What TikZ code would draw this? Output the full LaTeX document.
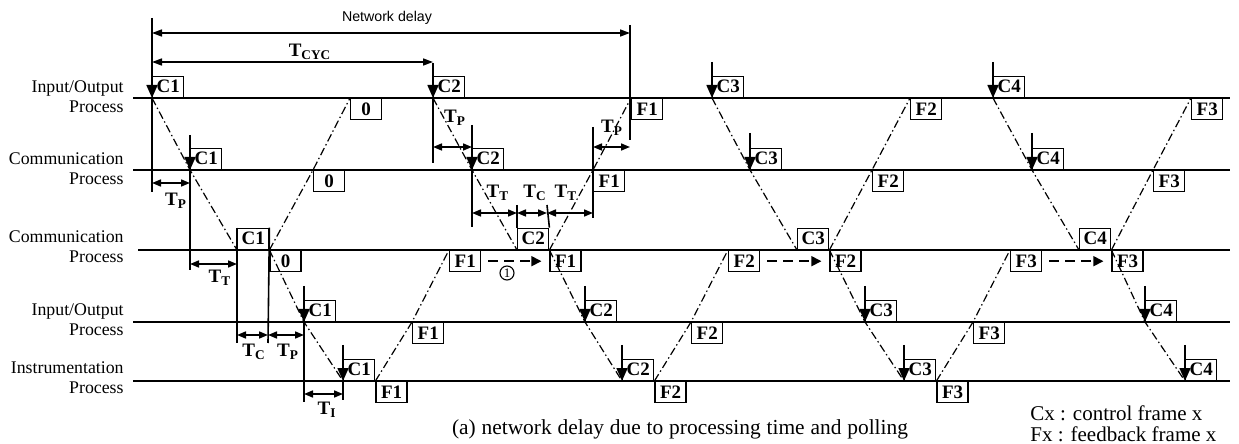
\documentclass[tikz,border=0pt]{standalone}
\usepackage{fontspec}
\setmainfont{Liberation Serif}
\newfontfamily\netsans{Liberation Sans}
\usetikzlibrary{arrows.meta}
\begin{document}
\begin{tikzpicture}[x=0.5pt,y=-0.5pt,
  timeline/.style={line width=1pt},
  frbox/.style={draw,line width=0.7pt,minimum width=15.5pt,minimum height=10.5pt,inner sep=0pt,font=\bfseries\fontsize{9.5}{9.5}\selectfont},
  upbox/.style={frbox,anchor=south west},
  downbox/.style={frbox,anchor=north west},
  cin/.style={line width=0.8pt,-{Triangle[width=5.5pt,length=6.5pt]}},
  vline/.style={line width=0.8pt},
  dimarr/.style={line width=0.8pt,{Triangle[width=3.5pt,length=4.5pt]}-{Triangle[width=3.5pt,length=4.5pt]}},
  toparr/.style={line width=0.8pt,{Triangle[width=3.5pt,length=5pt]}-{Triangle[width=3.5pt,length=5pt]}},
  dashdot/.style={line width=0.6pt,dash pattern=on 4pt off 1.5pt on 0.7pt off 1.5pt},
  dasharr/.style={line width=0.8pt,dash pattern=on 5pt off 3pt,-{Triangle[width=5pt,length=5pt]}},
  proc/.style={anchor=east,align=right,inner sep=0pt,font=\fontsize{8.9}{10}\selectfont},
  tlab/.style={inner sep=0pt,font=\bfseries\fontsize{9.5}{9.5}\selectfont},
  legend/.style={anchor=base west,inner sep=0pt,font=\fontsize{10.5}{12}\selectfont},
]
\useasboundingbox (0,0) rectangle (1239,444);

% ---------- timelines ----------
\coordinate (L1s) at (133,98);  \coordinate (L1e) at (1230,98);
\coordinate (L2s) at (133,170); \coordinate (L2e) at (1230,170);
\coordinate (L3s) at (138,250); \coordinate (L3e) at (1230,250);
\coordinate (L4s) at (133,322); \coordinate (L4e) at (1230,322);
\coordinate (L5s) at (133,381); \coordinate (L5e) at (1230,381);
\draw[timeline] (L1s) -- (L1e);
\draw[timeline] (L2s) -- (L2e);
\draw[timeline] (L3s) -- (L3e);
\draw[timeline] (L4s) -- (L4e);
\draw[timeline] (L5s) -- (L5e);

% ---------- process labels ----------
\node[proc] (P1) at (124,97) {Input/Output\\Process};
\node[proc] (P2) at (124,169) {Communication\\Process};
\node[proc] (P3) at (124,247) {Communication\\Process};
\node[proc] (P4) at (124,320) {Input/Output\\Process};
\node[proc] (P5) at (124,378) {Instrumentation\\Process};

% ---------- frames: line 1 ----------
\node[upbox]   (C1a) at (152,98) {C1};
\node[downbox] (Z0a) at (350,98) {0};
\node[upbox]   (C2a) at (433,98) {C2};
\node[downbox] (F1a) at (631,98) {F1};
\node[upbox]   (C3a) at (712,98) {C3};
\node[downbox] (F2a) at (910,98) {F2};
\node[upbox]   (C4a) at (993,98) {C4};
\node[downbox] (F3a) at (1191,98) {F3};
% line 2
\node[upbox]   (C1b) at (190,170) {C1};
\node[downbox] (Z0b) at (313,170) {0};
\node[upbox]   (C2b) at (472,170) {C2};
\node[downbox] (F1b) at (593,170) {F1};
\node[upbox]   (C3b) at (750,170) {C3};
\node[downbox] (F2b) at (872,170) {F2};
\node[upbox]   (C4b) at (1032,170) {C4};
\node[downbox] (F3b) at (1153,170) {F3};
% line 3
\node[upbox]   (C1c) at (237,250) {C1};
\node[downbox] (Z0c) at (C1c.south east) {0};
\node[downbox] (F1c) at (449,250) {F1};
\node[upbox]   (C2c) at (517,250) {C2};
\node[downbox] (F1cc) at (C2c.south east) {F1};
\node[downbox] (F2c) at (728,250) {F2};
\node[upbox]   (C3c) at (797,250) {C3};
\node[downbox] (F2cc) at (C3c.south east) {F2};
\node[downbox] (F3c) at (1010,250) {F3};
\node[upbox]   (C4c) at (1079,250) {C4};
\node[downbox] (F3cc) at (C4c.south east) {F3};
% line 4
\node[upbox]   (C1d) at (304,322) {C1};
\node[downbox] (F1d) at (412,322) {F1};
\node[upbox]   (C2d) at (585,322) {C2};
\node[downbox] (F2d) at (691,322) {F2};
\node[upbox]   (C3d) at (865,322) {C3};
\node[downbox] (F3d) at (973,322) {F3};
\node[upbox]   (C4d) at (1145,322) {C4};
% line 5
\node[upbox]   (C1e) at (343,381) {C1};
\node[downbox] (F1e) at (C1e.south east) {F1};
\node[upbox]   (C2e) at (622,381) {C2};
\node[downbox] (F2e) at (C2e.south east) {F2};
\node[upbox]   (C3e) at (904,381) {C3};
\node[downbox] (F3e) at (C3e.south east) {F3};
\node[upbox]   (C4e) at (1185,381) {C4};

% ---------- dash-dot frame paths ----------
\draw[dashdot] (C1a.south west) -- (C1b.south west) -- (C1c.south west);
\draw[dashdot] (C1c.south east) -- (C1d.south west) -- (C1e.south west);
\draw[dashdot] (Z0c.north west) -- (Z0b.north west) -- (Z0a.north west);
\draw[dashdot] (F1e.north west) -- (F1d.north west) -- (F1c.north west);
\draw[dashdot] (F1cc.north west) -- (F1b.north west) -- (F1a.north west);
\draw[dashdot] (C2a.south west) -- (C2b.south west) -- (C2c.south west);
\draw[dashdot] (C2c.south east) -- (C2d.south west) -- (C2e.south west);
\draw[dashdot] (F2e.north west) -- (F2d.north west) -- (F2c.north west);
\draw[dashdot] (F2cc.north west) -- (F2b.north west) -- (F2a.north west);
\draw[dashdot] (C3a.south west) -- (C3b.south west) -- (C3c.south west);
\draw[dashdot] (C3c.south east) -- (C3d.south west) -- (C3e.south west);
\draw[dashdot] (F3e.north west) -- (F3d.north west) -- (F3c.north west);
\draw[dashdot] (F3cc.north west) -- (F3b.north west) -- (F3a.north west);
\draw[dashdot] (C4a.south west) -- (C4b.south west) -- (C4c.south west);
\draw[dashdot] (C4c.south east) -- (C4d.south west) -- (C4e.south west);

% ---------- dashed forwarding arrows ----------
\draw[dasharr] ([xshift=3.5pt]F1c.east) -- ([xshift=-4pt]F1cc.west);
\draw[dasharr] ([xshift=3.5pt]F2c.east) -- ([xshift=-4pt]F2cc.west);
\draw[dasharr] ([xshift=3.5pt]F3c.east) -- ([xshift=-4pt]F3cc.west);
\node[circle,draw,line width=0.55pt,inner sep=0pt,minimum size=7pt,font=\fontsize{6.5}{6.5}\selectfont] (n1) at (507,273) {1};

% ---------- top delay arrows ----------
\coordinate (nd1) at (152,33); \coordinate (nd2) at (630,33);
\draw[toparr] (nd1) -- (nd2);
\node[inner sep=0pt,font=\netsans\fontsize{7.1}{7}\selectfont] (lnd) at (387,18) {Network delay};
\coordinate (v630t) at (630,25); \coordinate (v630b) at (630,140);
\draw[vline] (v630t) -- (v630b);
\coordinate (cy1) at (152,62); \coordinate (cy2) at (433,62);
\draw[toparr] (cy1) -- (cy2);
\node[tlab] (lcyc) at (310,52) {T\textsubscript{CYC}};

% ---------- cycle 1 markers ----------
\coordinate (v152t) at (152,18); \coordinate (v152b) at (152,192);
\draw[cin] (v152t) -- (C1a.south west);
\draw[vline] (C1a.south west) -- (v152b);
\coordinate (v190t) at (190,135); \coordinate (v190b) at (190,270);
\draw[cin] (v190t) -- (C1b.south west);
\draw[vline] (C1b.south west) -- (v190b);
\coordinate (tp1a) at (152,183); \coordinate (tp1b) at (190,183);
\draw[dimarr] (tp1a) -- (tp1b);
\node[tlab] (ltp1) at (176,201) {T\textsubscript{P}};
\coordinate (tt1a) at (190,264); \coordinate (tt1b) at (237,264);
\draw[dimarr] (tt1a) -- (tt1b);
\node[tlab] (ltt1) at (220,278) {T\textsubscript{T}};
\coordinate (v237b) at (237,343); \coordinate (v268b) at (268,343);
\draw[vline] (C1c.north west) -- (v237b);
\draw[vline] (C1c.north east) -- (v268b);
\coordinate (tc1a) at (237,335); \coordinate (tc1b) at (268,335); \coordinate (tp2b) at (304,335);
\draw[dimarr] (tc1a) -- (tc1b);
\draw[dimarr] (tc1b) -- (tp2b);
\node[tlab] (ltc1) at (254,352) {T\textsubscript{C}};
\node[tlab] (ltp2) at (288,352) {T\textsubscript{P}};
\coordinate (v304t) at (304,286); \coordinate (v304b) at (304,402);
\draw[cin] (v304t) -- (C1d.south west);
\draw[vline] (C1d.south west) -- (v304b);
\coordinate (v343t) at (343,345); \coordinate (v343b) at (343,400);
\draw[cin] (v343t) -- (C1e.south west);
\draw[vline] (C1e.south west) -- (v343b);
\coordinate (ti1a) at (304,394); \coordinate (ti1b) at (343,394);
\draw[dimarr] (ti1a) -- (ti1b);
\node[tlab] (lti1) at (327,410) {T\textsubscript{I}};

% ---------- cycle 2 markers ----------
\coordinate (v433t) at (433,63); \coordinate (v433b) at (433,163);
\draw[cin] (v433t) -- (C2a.south west);
\draw[vline] (C2a.south west) -- (v433b);
\coordinate (v472t) at (472,125); \coordinate (v472b) at (472,227);
\draw[cin] (v472t) -- (C2b.south west);
\draw[vline] (C2b.south west) -- (v472b);
\coordinate (tp3a) at (433,147); \coordinate (tp3b) at (472,147);
\draw[dimarr] (tp3a) -- (tp3b);
\node[tlab] (ltp3) at (455,118) {T\textsubscript{P}};
\coordinate (v517t) at (517,205); \coordinate (v547t) at (547,205);
\draw[vline] (v517t) -- (C2c.north west);
\draw[vline] (v547t) -- (C2c.north east);
\coordinate (v593t) at (593,127); \coordinate (v593b) at (593,218);
\draw[vline] (v593t) -- (v593b);
\coordinate (tt2a) at (472,213); \coordinate (tt2b) at (517,213);
\coordinate (tc2b) at (547,213); \coordinate (tt3b) at (593,213);
\draw[dimarr] (tt2a) -- (tt2b);
\draw[dimarr] (tt2b) -- (tc2b);
\draw[dimarr] (tc2b) -- (tt3b);
\node[tlab] (ltt2) at (498,193) {T\textsubscript{T}};
\node[tlab] (ltc2) at (535,193) {T\textsubscript{C}};
\node[tlab] (ltt3) at (566,193) {T\textsubscript{T}};
\coordinate (tp4a) at (593,147); \coordinate (tp4b) at (630,147);
\draw[dimarr] (tp4a) -- (tp4b);
\node[tlab] (ltp4) at (612,128) {T\textsubscript{P}};
\coordinate (v585t) at (585,286); \draw[cin] (v585t) -- (C2d.south west);
\coordinate (v622t) at (622,345); \draw[cin] (v622t) -- (C2e.south west);

% ---------- cycles 3 and 4 markers ----------
\coordinate (v712t) at (712,62);   \draw[cin] (v712t) -- (C3a.south west);
\coordinate (v750t) at (750,133);  \draw[cin] (v750t) -- (C3b.south west);
\coordinate (v865t) at (865,286);  \draw[cin] (v865t) -- (C3d.south west);
\coordinate (v904t) at (904,345);  \draw[cin] (v904t) -- (C3e.south west);
\coordinate (v993t) at (993,62);   \draw[cin] (v993t) -- (C4a.south west);
\coordinate (v1032t) at (1032,133); \draw[cin] (v1032t) -- (C4b.south west);
\coordinate (v1145t) at (1145,286); \draw[cin] (v1145t) -- (C4d.south west);
\coordinate (v1185t) at (1185,345); \draw[cin] (v1185t) -- (C4e.south west);

% ---------- caption and legend ----------
\node[anchor=base,inner sep=0pt,font=\fontsize{10.7}{12}\selectfont] (cap) at (680,434)
  {\makebox[228pt][s]{(a) network delay due to processing time and polling}};
\node[legend] (leg1) at (1030,420) {Cx : control frame x};
\node[legend] (leg2) at (1030,441) {Fx : feedback frame x};
\end{tikzpicture}
\end{document}
